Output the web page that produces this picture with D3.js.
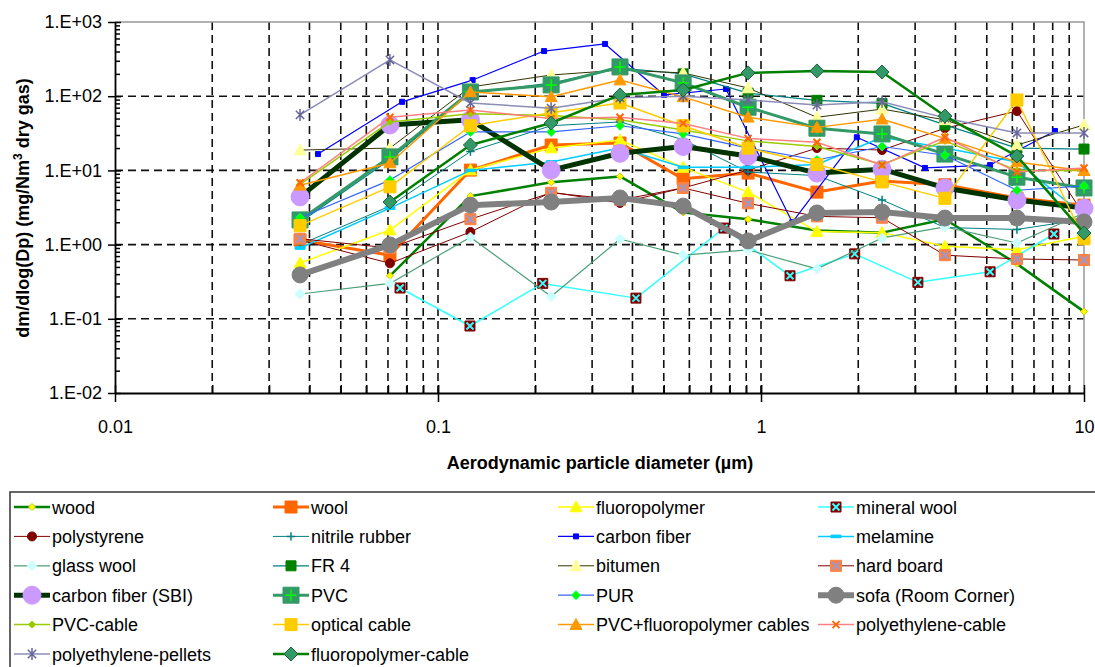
<!DOCTYPE html>
<html>
<head>
<meta charset="utf-8">
<script src="https://cdn.jsdelivr.net/npm/d3@7"></script>
<style>
  body { margin: 0; background: #fff; }
  svg text { font-family: "Liberation Sans", Arial, sans-serif; }
</style>
</head>
<body>
<div id="chart"></div>
<script>
var width = 1095;
var height = 667;

// particle diameters (µm) of the three instrument grids
var dStd = [0.0374, 0.071, 0.126, 0.224, 0.366, 0.574, 0.912, 1.49, 2.37, 3.71, 6.2, 10];
var dAlt = [0.0425, 0.0774, 0.128, 0.213, 0.329, 0.501, 0.779, 1.25, 1.98, 3.22, 5.12, 8.13];
var dMineral = [0.0763, 0.1256, 0.211, 0.41, 0.768, 1.23, 1.95, 3.06, 5.12, 8.07];

// dm/dlog(Dp) values, mg/Nm3 dry gas
var wood = [null, 0.38, 4.5, 6.9, 8.3, 2.7, 2.2, 1.55, 1.45, 2.2, 0.55, 0.125];
var wool = [1.15, 0.72, 10.1, 22, 23.4, 7.7, 9.2, 5.1, 7.2, 6.4, 4.25, 3.4];
var fluoropolymer = [0.565, 1.57, 10.1, 20, 25.7, 11, 5.1, 1.5, 1.45, 0.95, 0.85, 1.3];
var mineralWool = [0.26, 0.080, 0.30, 0.19, 1.67, 0.38, 0.75, 0.31, 0.43, 1.39];
var polystyrene = [1.15, 0.56, 1.48, 5.1, 3.64, 5.8, 10.1, 20, 18.8, 37, 63, 2.5];
var nitrileRubber = [1.0, 3.3, 18, 40, 45, 26, 9.5, 8.5, 4.0, 1.7, 1.6, 2.2];
var carbonFiber = [16.6, 84, 165, 406, 506, 104, 125, 2.0, 28, 10.8, 11.8, 34];
var melamine = [0.9, 3.1, 10, 13, 20, 11, 11, 12, 28, 20, 13, 2.5];
var glassWool = [0.216, 0.30, 1.26, 0.20, 1.19, 0.72, 0.85, 0.47, 1.23, 1.73, 1.05, 2.67];
var fr4 = [2.0, 14, 110, 150, 240, 200, 110, 88, 80, 41, 20, 19.4];
var bitumen = [18.8, 20, 133, 193, 225, 206, 129, 52, 67, 48, 22, 41];
var hardBoard = [1.2, 0.9, 2.2, 5.0, 4.0, 5.8, 3.6, 2.4, 2.3, 0.72, 0.64, 0.62];
var carbonFiberSBI = [4.4, 41, 48, 10.1, 17, 21, 15.6, 9.2, 10.4, 5.8, 4.0, 3.1];
var pvc = [2.15, 15.2, 114, 142, 248, 151, 71, 37, 31, 16.6, 8.1, 5.8];
var pur = [2.3, 7.4, 33, 33, 40, 31, 20, 13.8, 21, 16, 5.4, 6.2];
var sofa = [0.39, 0.99, 3.4, 3.75, 4.25, 3.3, 1.12, 2.67, 2.75, 2.28, 2.28, 2.02];
var pvcCable = [6.5, 45, 58, 55, 48, 35, 25, 21, 12, 25, 10, 10];
var opticalCable = [1.8, 6.0, 40, 60, 81, 40, 20, 12, 7.0, 4.2, 89, 1.2];
var pvcFluoroCables = [6.3, 12.6, 114, 98, 165, 98, 52, 38, 49, 27, 13, 9.9];
var polyethyleneCable = [6.8, 52, 65, 50, 52, 43, 27, 24, 11.8, 28, 9.5, 10.8];
var polyethylenePellets = [56, 308, 81, 69, 95, 100, 89, 76, 84, 51, 32, 32];
var fluoropolymerCable = [null, 3.75, 22, 43.5, 104, 121, 206, 219, 212, 54, 15.6, 1.43];

var xTicks = [0.01, 0.1, 1, 10];
var xTickLabels = ["0.01", "0.1", "1", "10"];
var yTicks = [0.01, 0.1, 1, 10, 100, 1000];
var yTickLabels = ["1.E-02", "1.E-01", "1.E+00", "1.E+01", "1.E+02", "1.E+03"];

// name, x grid, values, line colour, line width, marker, marker fill, marker stroke, marker size
var series = [
    ["wood", dStd, wood, "#008000", 2.5, "diamond", "#FFFF00", "#CCCC00", 3.5],
    ["wool", dStd, wool, "#FF6600", 3, "square", "#FF6600", "#FF6600", 6],
    ["fluoropolymer", dStd, fluoropolymer, "#FFFF00", 1.5, "triangle", "#FFFF00", "#FFFF00", 6],
    ["mineral wool", dMineral, mineralWool, "#33FFFF", 1.5, "squareX", "#800000", "#33FFFF", 5],
    ["polystyrene", dStd, polystyrene, "#800000", 1, "circle", "#800000", "#800000", 4.5],
    ["nitrile rubber", dStd, nitrileRubber, "#008080", 1, "plus", "none", "#008080", 6],
    ["carbon fiber", dAlt, carbonFiber, "#0000FF", 1.2, "square", "#0000FF", "#0000FF", 2.5],
    ["melamine", dStd, melamine, "#00CCFF", 1.5, "dash", "#00CCFF", "#00CCFF", 5],
    ["glass wool", dStd, glassWool, "#4C9F78", 1.2, "diamond", "#CCFFFF", "#CCFFFF", 5],
    ["FR 4", dStd, fr4, "#008080", 1.2, "square", "#008000", "#008000", 5],
    ["bitumen", dStd, bitumen, "#333300", 1, "triangle", "#FFFF99", "#FFFF99", 6],
    ["hard board", dStd, hardBoard, "#800000", 1, "squareX", "#FF8040", "#9999CC", 5.5],
    ["carbon fiber (SBI)", dStd, carbonFiberSBI, "#003300", 5, "circle", "#CC99FF", "#CC99FF", 9],
    ["PVC", dStd, pvc, "#339966", 3, "squarePlus", "#339966", "#00FF00", 8],
    ["PUR", dStd, pur, "#3366FF", 1.2, "diamond", "#00FF00", "#00FF66", 4.5],
    ["sofa (Room Corner)", dStd, sofa, "#808080", 6, "circle", "#808080", "#808080", 8],
    ["PVC-cable", dStd, pvcCable, "#99CC00", 1.5, "diamond", "#99CC00", "#99CC00", 3.5],
    ["optical cable", dStd, opticalCable, "#FFCC00", 1.5, "square", "#FFCC00", "#FFCC00", 6],
    ["PVC+fluoropolymer cables", dStd, pvcFluoroCables, "#FF9900", 1.5, "triangle", "#FF9900", "#FF9900", 6],
    ["polyethylene-cable", dStd, polyethyleneCable, "#FF8080", 1.5, "x", "none", "#FF6600", 5],
    ["polyethylene-pellets", dStd, polyethylenePellets, "#8C8CB8", 1.5, "asterisk", "none", "#666699", 6],
    ["fluoropolymer-cable", dStd, fluoropolymerCable, "#008000", 2.5, "diamond", "#339966", "#1F5F3F", 7]
];

var x = d3.scaleLog().domain([0.01, 10]).range([115, 1084]);
var y = d3.scaleLog().domain([0.01, 1000]).range([393, 22]);

var svg = d3.select("#chart").append("svg")
    .attr("width", width)
    .attr("height", height);

/**
 * Path of a marker centred on 0,0.
 */
function markerPath(type, r) {
    switch (type) {
        case "square": case "squareX": case "squarePlus":
            return "M" + (-r) + "," + (-r) + "H" + r + "V" + r + "H" + (-r) + "Z";
        case "diamond":
            return "M0," + (-r) + "L" + r + ",0L0," + r + "L" + (-r) + ",0Z";
        case "triangle":
            return "M0," + (-r) + "L" + r + "," + (r * 0.8) + "L" + (-r) + "," + (r * 0.8) + "Z";
        case "circle":
            return d3.symbol(d3.symbolCircle, Math.PI * r * r)();
        case "dash":
            return "M" + (-r) + ",-1.3H" + r + "V1.3H" + (-r) + "Z";
        default:
            return "";
    }
}

function strokePath(type, r) {
    var k = r * 0.7;
    switch (type) {
        case "plus": case "squarePlus":
            return "M" + (-k) + ",0H" + k + "M0," + (-k) + "V" + k;
        case "x": case "squareX":
            return "M" + (-k) + "," + (-k) + "L" + k + "," + k + "M" + (-k) + "," + k + "L" + k + "," + (-k);
        case "asterisk":
            return "M" + (-k) + "," + (-k) + "L" + k + "," + k + "M" + (-k) + "," + k + "L" + k + "," + (-k) + "M0," + (-r) + "V" + r;
        default:
            return "";
    }
}

function drawMarker(g, s, cx, cy) {
    var type = s[5], fill = s[6], stroke = s[7], r = s[8];
    var m = g.append("g").attr("transform", "translate(" + cx + "," + cy + ")");
    var body = markerPath(type, r);
    if (body) {
        m.append("path").attr("d", body)
            .attr("fill", fill)
            .attr("stroke", type === "squareX" || type === "squarePlus" ? fill : stroke)
            .attr("stroke-width", 1);
    }
    var lines = strokePath(type, r);
    if (lines) {
        m.append("path").attr("d", lines)
            .attr("fill", "none")
            .attr("stroke", stroke)
            .attr("stroke-width", type === "x" || type === "squareX" ? 2 : 1.5);
    }
}

// grid
var grid = svg.append("g");
var minorX = [];
[0.01, 0.1, 1].forEach(function (dec) {
    for (var k = 2; k <= 10; k++) minorX.push(dec * k);
});
grid.selectAll("line.vx").data(minorX.filter(function (d) { return d < 10; })).enter()
    .append("line")
    .attr("x1", function (d) { return x(d); })
    .attr("x2", function (d) { return x(d); })
    .attr("y1", 22).attr("y2", 393)
    .attr("stroke", "#111").attr("stroke-width", 1.6)
    .attr("stroke-dasharray", "8,5");
grid.selectAll("line.hy").data([0.1, 1, 10, 100]).enter()
    .append("line")
    .attr("x1", 115).attr("x2", 1084)
    .attr("y1", function (d) { return y(d); })
    .attr("y2", function (d) { return y(d); })
    .attr("stroke", "#111").attr("stroke-width", 1.6)
    .attr("stroke-dasharray", "8,5");

// frame (top and right)
svg.append("path")
    .attr("d", "M115,22H1084V393")
    .attr("fill", "none")
    .attr("stroke", "#999").attr("stroke-width", 1.5);

// series
var plot = svg.append("g");
series.forEach(function (s) {
    var pts = s[2].map(function (v, i) { return [s[1][i], v]; })
        .filter(function (p) { return p[1] !== null; });
    var line = d3.line()
        .x(function (p) { return x(p[0]); })
        .y(function (p) { return y(p[1]); });
    plot.append("path")
        .attr("d", line(pts))
        .attr("fill", "none")
        .attr("stroke", s[3])
        .attr("stroke-width", s[4])
        .attr("stroke-linejoin", "round");
    pts.forEach(function (p) {
        drawMarker(plot, s, x(p[0]), y(p[1]));
    });
});

// axes: majors cross the axis line, minors point inward
var yAxis = d3.axisLeft(y)
    .tickValues(yTicks)
    .tickSizeInner(7)
    .tickSizeOuter(0)
    .tickPadding(6)
    .tickFormat(function (d, i) { return yTickLabels[i]; });
var gy = svg.append("g").attr("transform", "translate(115,0)").call(yAxis);
svg.append("g").attr("transform", "translate(115,0)")
    .call(d3.axisRight(y).tickValues(yTicks).tickSize(6).tickFormat(""))
    .select(".domain").remove();

var minorY = [];
[0.01, 0.1, 1, 10, 100].forEach(function (dec) {
    for (var k = 2; k <= 9; k++) minorY.push(dec * k);
});
svg.append("g").attr("transform", "translate(115,0)")
    .call(d3.axisRight(y).tickValues(minorY).tickSize(5).tickFormat(""))
    .select(".domain").remove();

var xAxis = d3.axisBottom(x)
    .tickValues(xTicks)
    .tickSizeInner(9)
    .tickSizeOuter(0)
    .tickPadding(18)
    .tickFormat(function (d, i) { return xTickLabels[i]; });
var gx = svg.append("g").attr("transform", "translate(0,393)").call(xAxis);
svg.append("g").attr("transform", "translate(0,393)")
    .call(d3.axisTop(x).tickValues(xTicks.concat(minorX.filter(function (d) { return d < 10; })))
        .tickSize(8).tickFormat(""))
    .select(".domain").remove();

svg.selectAll(".tick line").attr("stroke", "#000").attr("stroke-width", 1.5);
[gx, gy].forEach(function (g) {
    g.selectAll("text").attr("font-size", 18).attr("fill", "#000")
        .style("font-family", '"Liberation Sans", Arial, sans-serif');
    g.select(".domain").attr("stroke", "#000").attr("stroke-width", 1.8);
});

// axis titles
svg.append("text")
    .attr("x", 600).attr("y", 469)
    .attr("text-anchor", "middle")
    .attr("font-size", 18).attr("font-weight", "bold")
    .text("Aerodynamic particle diameter  (\u00B5m)");

var yt = svg.append("text")
    .attr("transform", "translate(29,208) rotate(-90)")
    .attr("text-anchor", "middle")
    .attr("font-size", 18).attr("font-weight", "bold");
yt.append("tspan").text("dm/dlog(Dp)  (mg/Nm");
yt.append("tspan").attr("font-size", 12).attr("dy", -7).text("3");
yt.append("tspan").attr("dy", 7).text(" dry gas)");

// legend
var legend = svg.append("g");
legend.append("rect")
    .attr("x", 10).attr("y", 492)
    .attr("width", 1100).attr("height", 200)
    .attr("fill", "#fff")
    .attr("stroke", "#333").attr("stroke-width", 1.5);

var colX = [14, 273, 558, 818];
var rowY0 = 507, rowStep = 29.4;
series.forEach(function (s, i) {
    var cx = colX[i % 4], cy = rowY0 + Math.floor(i / 4) * rowStep;
    var g = legend.append("g");
    g.append("line")
        .attr("x1", cx).attr("x2", cx + 36)
        .attr("y1", cy).attr("y2", cy)
        .attr("stroke", s[3]).attr("stroke-width", s[4]);
    drawMarker(g, s, cx + 18, cy);
    g.append("text")
        .attr("x", cx + 38).attr("y", cy + 6.5)
        .attr("font-size", 18).attr("fill", "#000")
        .text(s[0]);
});
</script>
</body>
</html>
